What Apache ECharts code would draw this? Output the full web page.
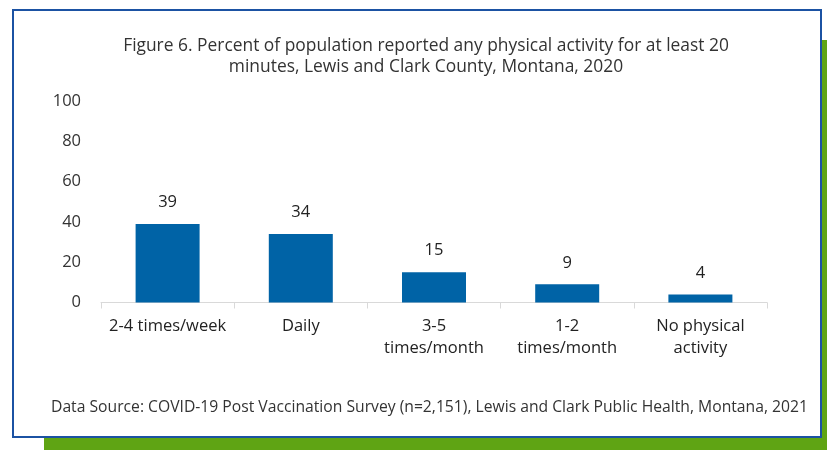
<!DOCTYPE html>
<html>
<head>
<meta charset="utf-8">
<script src="https://cdn.jsdelivr.net/npm/echarts@6/dist/echarts.min.js"></script>
<style>
html,body{margin:0;padding:0;width:827px;height:450px;background:#fff;overflow:hidden;}
#shadow{position:absolute;left:44px;top:40px;width:783px;height:410px;background:#5fa414;}
#card{position:absolute;left:12px;top:9px;width:806px;height:425px;border:2px solid #1b52a3;background:#fff;}
#chart{position:absolute;left:0;top:0;width:827px;height:450px;}
</style>
</head>
<body>
<div id="shadow"></div>
<div id="card"></div>
<div id="chart"></div>
<script>
const titleText = "Figure 6. Percent of population reported any physical activity for at least 20\nminutes, Lewis and Clark County, Montana, 2020";
const sourceText = "Data Source: COVID-19 Post Vaccination Survey (n=2,151), Lewis and Clark Public Health, Montana, 2021";
const categories = ["2-4 times/week", "Daily", "3-5\ntimes/month", "1-2\ntimes/month", "No physical\nactivity"];
const values = [39, 34, 15, 9, 4];
const yTicks = [0, 20, 40, 60, 80, 100];

const font = "'Open Sans', Lato, sans-serif";
const chart = echarts.init(document.getElementById('chart'), null, {renderer: 'canvas'});
chart.setOption({
  backgroundColor: 'transparent',
  animation: false,
  title: {
    text: titleText,
    left: 421,
    top: 31,
    textAlign: 'center',
    textStyle: {fontFamily: font, fontSize: 17.4, fontWeight: 'normal', color: '#333', lineHeight: 21}
  },
  graphic: [{
    type: 'text',
    left: 51,
    top: 400,
    style: {text: sourceText, font: '15.7px ' + font, fill: '#333'}
  }],
  grid: {left: 101, right: 60, top: 101, bottom: 147.5},
  xAxis: {
    type: 'category',
    data: categories,
    axisLine: {lineStyle: {color: '#d9d9d9', width: 1}},
    axisTick: {show: true, length: 6, lineStyle: {color: '#d9d9d9'}},
    axisLabel: {fontFamily: font, fontSize: 16.5, color: '#222', lineHeight: 22, margin: 13, interval: 0}
  },
  yAxis: {
    type: 'value',
    min: yTicks[0],
    max: yTicks[yTicks.length - 1],
    interval: 20,
    axisLine: {show: false},
    axisTick: {show: false},
    splitLine: {show: false},
    axisLabel: {fontFamily: font, fontSize: 16.5, color: '#333', margin: 20}
  },
  series: [{
    type: 'bar',
    data: values,
    barWidth: 64,
    itemStyle: {color: '#0063a6'},
    label: {show: true, position: 'top', distance: 13, fontFamily: font, fontSize: 16.5, color: '#222'}
  }]
});
</script>
</body>
</html>
